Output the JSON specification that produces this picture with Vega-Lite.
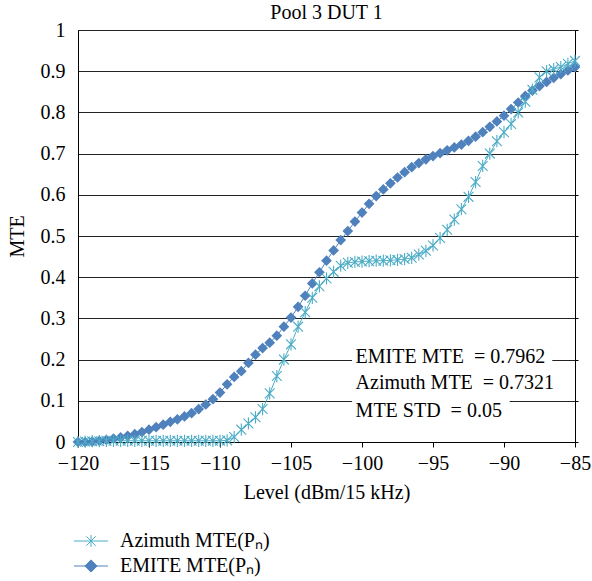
{
  "$schema": "https://vega.github.io/schema/vega-lite/v6.json",
  "width": 497,
  "height": 412,
  "autosize": {"type": "none"},
  "padding": {"left": 78, "top": 30, "right": 17, "bottom": 139},
  "background": "white",
  "title": {"text": "Pool 3 DUT 1", "font": "Liberation Serif", "fontSize": 20, "fontWeight": "normal", "color": "black", "anchor": "middle", "offset": -3},
  "config": {
    "view": {"stroke": "black", "strokeWidth": 1},
    "font": "Liberation Serif",
    "axis": {"labelFont": "Liberation Serif", "titleFont": "Liberation Serif", "labelFontSize": 20, "titleFontSize": 20, "labelColor": "black", "titleColor": "black", "titleFontWeight": "normal", "domainColor": "black", "tickColor": "black", "labelFlush": false},
    "axisX": {"tickSize": 5, "labelPadding": 6, "titlePadding": 9, "grid": false, "format": "d", "tickCount": 7, "labelFlush": false}
  },
  "resolve": {"axis": {"y": "independent"}},
  "datasets": {
    "curves": [
      {"series": "EMITE MTE(Pₙ)", "level": -120, "mte": 0.000},
      {"series": "EMITE MTE(Pₙ)", "level": -119.5, "mte": 0.000},
      {"series": "EMITE MTE(Pₙ)", "level": -119, "mte": 0.001},
      {"series": "EMITE MTE(Pₙ)", "level": -118.5, "mte": 0.003},
      {"series": "EMITE MTE(Pₙ)", "level": -118, "mte": 0.005},
      {"series": "EMITE MTE(Pₙ)", "level": -117.5, "mte": 0.008},
      {"series": "EMITE MTE(Pₙ)", "level": -117, "mte": 0.011},
      {"series": "EMITE MTE(Pₙ)", "level": -116.5, "mte": 0.015},
      {"series": "EMITE MTE(Pₙ)", "level": -116, "mte": 0.019},
      {"series": "EMITE MTE(Pₙ)", "level": -115.5, "mte": 0.024},
      {"series": "EMITE MTE(Pₙ)", "level": -115, "mte": 0.030},
      {"series": "EMITE MTE(Pₙ)", "level": -114.5, "mte": 0.036},
      {"series": "EMITE MTE(Pₙ)", "level": -114, "mte": 0.042},
      {"series": "EMITE MTE(Pₙ)", "level": -113.5, "mte": 0.049},
      {"series": "EMITE MTE(Pₙ)", "level": -113, "mte": 0.055},
      {"series": "EMITE MTE(Pₙ)", "level": -112.5, "mte": 0.062},
      {"series": "EMITE MTE(Pₙ)", "level": -112, "mte": 0.070},
      {"series": "EMITE MTE(Pₙ)", "level": -111.5, "mte": 0.080},
      {"series": "EMITE MTE(Pₙ)", "level": -111, "mte": 0.091},
      {"series": "EMITE MTE(Pₙ)", "level": -110.5, "mte": 0.104},
      {"series": "EMITE MTE(Pₙ)", "level": -110, "mte": 0.120},
      {"series": "EMITE MTE(Pₙ)", "level": -109.5, "mte": 0.140},
      {"series": "EMITE MTE(Pₙ)", "level": -109, "mte": 0.158},
      {"series": "EMITE MTE(Pₙ)", "level": -108.5, "mte": 0.172},
      {"series": "EMITE MTE(Pₙ)", "level": -108, "mte": 0.192},
      {"series": "EMITE MTE(Pₙ)", "level": -107.5, "mte": 0.212},
      {"series": "EMITE MTE(Pₙ)", "level": -107, "mte": 0.228},
      {"series": "EMITE MTE(Pₙ)", "level": -106.5, "mte": 0.241},
      {"series": "EMITE MTE(Pₙ)", "level": -106, "mte": 0.258},
      {"series": "EMITE MTE(Pₙ)", "level": -105.5, "mte": 0.280},
      {"series": "EMITE MTE(Pₙ)", "level": -105, "mte": 0.302},
      {"series": "EMITE MTE(Pₙ)", "level": -104.5, "mte": 0.328},
      {"series": "EMITE MTE(Pₙ)", "level": -104, "mte": 0.355},
      {"series": "EMITE MTE(Pₙ)", "level": -103.5, "mte": 0.385},
      {"series": "EMITE MTE(Pₙ)", "level": -103, "mte": 0.412},
      {"series": "EMITE MTE(Pₙ)", "level": -102.5, "mte": 0.440},
      {"series": "EMITE MTE(Pₙ)", "level": -102, "mte": 0.465},
      {"series": "EMITE MTE(Pₙ)", "level": -101.5, "mte": 0.490},
      {"series": "EMITE MTE(Pₙ)", "level": -101, "mte": 0.512},
      {"series": "EMITE MTE(Pₙ)", "level": -100.5, "mte": 0.535},
      {"series": "EMITE MTE(Pₙ)", "level": -100, "mte": 0.557},
      {"series": "EMITE MTE(Pₙ)", "level": -99.5, "mte": 0.578},
      {"series": "EMITE MTE(Pₙ)", "level": -99, "mte": 0.597},
      {"series": "EMITE MTE(Pₙ)", "level": -98.5, "mte": 0.613},
      {"series": "EMITE MTE(Pₙ)", "level": -98, "mte": 0.628},
      {"series": "EMITE MTE(Pₙ)", "level": -97.5, "mte": 0.642},
      {"series": "EMITE MTE(Pₙ)", "level": -97, "mte": 0.655},
      {"series": "EMITE MTE(Pₙ)", "level": -96.5, "mte": 0.667},
      {"series": "EMITE MTE(Pₙ)", "level": -96, "mte": 0.677},
      {"series": "EMITE MTE(Pₙ)", "level": -95.5, "mte": 0.686},
      {"series": "EMITE MTE(Pₙ)", "level": -95, "mte": 0.694},
      {"series": "EMITE MTE(Pₙ)", "level": -94.5, "mte": 0.701},
      {"series": "EMITE MTE(Pₙ)", "level": -94, "mte": 0.708},
      {"series": "EMITE MTE(Pₙ)", "level": -93.5, "mte": 0.715},
      {"series": "EMITE MTE(Pₙ)", "level": -93, "mte": 0.722},
      {"series": "EMITE MTE(Pₙ)", "level": -92.5, "mte": 0.731},
      {"series": "EMITE MTE(Pₙ)", "level": -92, "mte": 0.741},
      {"series": "EMITE MTE(Pₙ)", "level": -91.5, "mte": 0.752},
      {"series": "EMITE MTE(Pₙ)", "level": -91, "mte": 0.765},
      {"series": "EMITE MTE(Pₙ)", "level": -90.5, "mte": 0.778},
      {"series": "EMITE MTE(Pₙ)", "level": -90, "mte": 0.792},
      {"series": "EMITE MTE(Pₙ)", "level": -89.5, "mte": 0.808},
      {"series": "EMITE MTE(Pₙ)", "level": -89, "mte": 0.824},
      {"series": "EMITE MTE(Pₙ)", "level": -88.5, "mte": 0.840},
      {"series": "EMITE MTE(Pₙ)", "level": -88, "mte": 0.853},
      {"series": "EMITE MTE(Pₙ)", "level": -87.5, "mte": 0.864},
      {"series": "EMITE MTE(Pₙ)", "level": -87, "mte": 0.874},
      {"series": "EMITE MTE(Pₙ)", "level": -86.5, "mte": 0.884},
      {"series": "EMITE MTE(Pₙ)", "level": -86, "mte": 0.893},
      {"series": "EMITE MTE(Pₙ)", "level": -85.5, "mte": 0.902},
      {"series": "EMITE MTE(Pₙ)", "level": -85, "mte": 0.910},
      {"series": "Azimuth MTE(Pₙ)", "level": -120, "mte": 0.000},
      {"series": "Azimuth MTE(Pₙ)", "level": -119.5, "mte": 0.001},
      {"series": "Azimuth MTE(Pₙ)", "level": -119, "mte": 0.002},
      {"series": "Azimuth MTE(Pₙ)", "level": -118.5, "mte": 0.002},
      {"series": "Azimuth MTE(Pₙ)", "level": -118, "mte": 0.003},
      {"series": "Azimuth MTE(Pₙ)", "level": -117.5, "mte": 0.003},
      {"series": "Azimuth MTE(Pₙ)", "level": -117, "mte": 0.003},
      {"series": "Azimuth MTE(Pₙ)", "level": -116.5, "mte": 0.003},
      {"series": "Azimuth MTE(Pₙ)", "level": -116, "mte": 0.003},
      {"series": "Azimuth MTE(Pₙ)", "level": -115.5, "mte": 0.003},
      {"series": "Azimuth MTE(Pₙ)", "level": -115, "mte": 0.003},
      {"series": "Azimuth MTE(Pₙ)", "level": -114.5, "mte": 0.003},
      {"series": "Azimuth MTE(Pₙ)", "level": -114, "mte": 0.003},
      {"series": "Azimuth MTE(Pₙ)", "level": -113.5, "mte": 0.003},
      {"series": "Azimuth MTE(Pₙ)", "level": -113, "mte": 0.003},
      {"series": "Azimuth MTE(Pₙ)", "level": -112.5, "mte": 0.003},
      {"series": "Azimuth MTE(Pₙ)", "level": -112, "mte": 0.003},
      {"series": "Azimuth MTE(Pₙ)", "level": -111.5, "mte": 0.003},
      {"series": "Azimuth MTE(Pₙ)", "level": -111, "mte": 0.003},
      {"series": "Azimuth MTE(Pₙ)", "level": -110.5, "mte": 0.003},
      {"series": "Azimuth MTE(Pₙ)", "level": -110, "mte": 0.003},
      {"series": "Azimuth MTE(Pₙ)", "level": -109.5, "mte": 0.004},
      {"series": "Azimuth MTE(Pₙ)", "level": -109, "mte": 0.012},
      {"series": "Azimuth MTE(Pₙ)", "level": -108.5, "mte": 0.030},
      {"series": "Azimuth MTE(Pₙ)", "level": -108, "mte": 0.045},
      {"series": "Azimuth MTE(Pₙ)", "level": -107.5, "mte": 0.060},
      {"series": "Azimuth MTE(Pₙ)", "level": -107, "mte": 0.080},
      {"series": "Azimuth MTE(Pₙ)", "level": -106.5, "mte": 0.118},
      {"series": "Azimuth MTE(Pₙ)", "level": -106, "mte": 0.160},
      {"series": "Azimuth MTE(Pₙ)", "level": -105.5, "mte": 0.200},
      {"series": "Azimuth MTE(Pₙ)", "level": -105, "mte": 0.237},
      {"series": "Azimuth MTE(Pₙ)", "level": -104.5, "mte": 0.280},
      {"series": "Azimuth MTE(Pₙ)", "level": -104, "mte": 0.315},
      {"series": "Azimuth MTE(Pₙ)", "level": -103.5, "mte": 0.350},
      {"series": "Azimuth MTE(Pₙ)", "level": -103, "mte": 0.378},
      {"series": "Azimuth MTE(Pₙ)", "level": -102.5, "mte": 0.397},
      {"series": "Azimuth MTE(Pₙ)", "level": -102, "mte": 0.413},
      {"series": "Azimuth MTE(Pₙ)", "level": -101.5, "mte": 0.428},
      {"series": "Azimuth MTE(Pₙ)", "level": -101, "mte": 0.435},
      {"series": "Azimuth MTE(Pₙ)", "level": -100.5, "mte": 0.437},
      {"series": "Azimuth MTE(Pₙ)", "level": -100, "mte": 0.438},
      {"series": "Azimuth MTE(Pₙ)", "level": -99.5, "mte": 0.439},
      {"series": "Azimuth MTE(Pₙ)", "level": -99, "mte": 0.440},
      {"series": "Azimuth MTE(Pₙ)", "level": -98.5, "mte": 0.440},
      {"series": "Azimuth MTE(Pₙ)", "level": -98, "mte": 0.441},
      {"series": "Azimuth MTE(Pₙ)", "level": -97.5, "mte": 0.442},
      {"series": "Azimuth MTE(Pₙ)", "level": -97, "mte": 0.444},
      {"series": "Azimuth MTE(Pₙ)", "level": -96.5, "mte": 0.447},
      {"series": "Azimuth MTE(Pₙ)", "level": -96, "mte": 0.455},
      {"series": "Azimuth MTE(Pₙ)", "level": -95.5, "mte": 0.464},
      {"series": "Azimuth MTE(Pₙ)", "level": -95, "mte": 0.477},
      {"series": "Azimuth MTE(Pₙ)", "level": -94.5, "mte": 0.495},
      {"series": "Azimuth MTE(Pₙ)", "level": -94, "mte": 0.515},
      {"series": "Azimuth MTE(Pₙ)", "level": -93.5, "mte": 0.540},
      {"series": "Azimuth MTE(Pₙ)", "level": -93, "mte": 0.565},
      {"series": "Azimuth MTE(Pₙ)", "level": -92.5, "mte": 0.595},
      {"series": "Azimuth MTE(Pₙ)", "level": -92, "mte": 0.631},
      {"series": "Azimuth MTE(Pₙ)", "level": -91.5, "mte": 0.670},
      {"series": "Azimuth MTE(Pₙ)", "level": -91, "mte": 0.700},
      {"series": "Azimuth MTE(Pₙ)", "level": -90.5, "mte": 0.730},
      {"series": "Azimuth MTE(Pₙ)", "level": -90, "mte": 0.752},
      {"series": "Azimuth MTE(Pₙ)", "level": -89.5, "mte": 0.772},
      {"series": "Azimuth MTE(Pₙ)", "level": -89, "mte": 0.800},
      {"series": "Azimuth MTE(Pₙ)", "level": -88.5, "mte": 0.826},
      {"series": "Azimuth MTE(Pₙ)", "level": -88, "mte": 0.855},
      {"series": "Azimuth MTE(Pₙ)", "level": -87.5, "mte": 0.885},
      {"series": "Azimuth MTE(Pₙ)", "level": -87, "mte": 0.900},
      {"series": "Azimuth MTE(Pₙ)", "level": -86.5, "mte": 0.905},
      {"series": "Azimuth MTE(Pₙ)", "level": -86, "mte": 0.910},
      {"series": "Azimuth MTE(Pₙ)", "level": -85.5, "mte": 0.918},
      {"series": "Azimuth MTE(Pₙ)", "level": -85, "mte": 0.925}
    ],
    "boxes": [
      {"x1": -100.7, "x2": -86.6, "y1": 0.185, "y2": 0.228},
      {"x1": -100.7, "x2": -89.6, "y1": 0.06, "y2": 0.11}
    ],
    "notes": [
      {"x": -100.45, "y": 0.206, "label": "EMITE MTE \u00a0= 0.7962"},
      {"x": -100.45, "y": 0.143, "label": "Azimuth MTE \u00a0= 0.7321"},
      {"x": -100.45, "y": 0.075, "label": "MTE STD \u00a0= 0.05"}
    ]
  },
  "layer": [
    {
      "data": {"name": "boxes"},
      "mark": {"type": "rect", "fill": "white", "stroke": null},
      "encoding": {
        "x": {"field": "x1", "type": "quantitative", "title": "Level (dBm/15 kHz)", "scale": {"domain": [-120, -85], "nice": false}},
        "x2": {"field": "x2"},
        "y": {"field": "y1", "type": "quantitative", "scale": {"domain": [0, 1], "nice": false}, "axis": null},
        "y2": {"field": "y2"}
      }
    },
    {
      "data": {"name": "curves"},
      "mark": {"type": "line", "strokeWidth": 1},
      "encoding": {
        "x": {"field": "level", "type": "quantitative", "title": "Level (dBm/15 kHz)", "scale": {"domain": [-120, -85], "nice": false}},
        "y": {"field": "mte", "type": "quantitative", "scale": {"domain": [0, 1], "nice": false},
              "axis": {"orient": "left", "title": "MTE", "format": "~g", "tickCount": 10, "ticks": false, "tickSize": 0, "labelPadding": 13, "titlePadding": 13, "grid": true, "gridColor": "#222", "gridWidth": 1, "domainColor": "black"}},
        "color": {"field": "series", "type": "nominal",
          "scale": {"domain": ["Azimuth MTE(Pₙ)", "EMITE MTE(Pₙ)"], "range": ["#4bacc6", "#4f81bd"]},
          "legend": {"orient": "none", "legendX": 3, "legendY": 501, "title": null, "symbolSize": 289, "symbolStrokeWidth": 1,
            "labelFont": "Liberation Serif", "labelFontSize": 20, "labelColor": "black", "labelOffset": 19, "rowPadding": 5,
            "encode": {"symbols": {"update": {
              "shape": {"signal": "indexof(datum.value, 'EMITE') >= 0 ? 'M-2,0H2M-0.72,0L0,-0.72L0.72,0L0,0.72Z' : 'M-2,0H2M-0.55,-0.55L0.55,0.55M-0.55,0.55L0.55,-0.55M0,-0.7V0.7'"},
              "fill": {"signal": "indexof(datum.value, 'EMITE') >= 0 ? '#4f81bd' : 'transparent'"}
            }}}}
        },
        "order": {"field": "level", "type": "quantitative"}
      }
    },
    {
      "data": {"name": "curves"},
      "transform": [{"filter": "indexof(datum.series, 'EMITE') >= 0"}],
      "mark": {"type": "point", "shape": "diamond", "filled": true, "size": 115, "opacity": 1, "color": "#4f81bd"},
      "encoding": {
        "x": {"field": "level", "type": "quantitative", "title": "Level (dBm/15 kHz)"},
        "y": {"field": "mte", "type": "quantitative", "axis": null}
      }
    },
    {
      "data": {"name": "curves"},
      "transform": [{"filter": "indexof(datum.series, 'Azimuth') >= 0"}],
      "mark": {"type": "point", "shape": "M-0.8,-0.8L0.8,0.8M-0.8,0.8L0.8,-0.8M0,-1V1", "filled": false, "size": 150, "strokeWidth": 1.1, "opacity": 1, "color": "#4bacc6"},
      "encoding": {
        "x": {"field": "level", "type": "quantitative", "title": "Level (dBm/15 kHz)"},
        "y": {"field": "mte", "type": "quantitative", "axis": null}
      }
    },
    {
      "data": {"name": "notes"},
      "mark": {"type": "text", "align": "left", "baseline": "middle", "font": "Liberation Serif", "fontSize": 20, "color": "black"},
      "encoding": {
        "x": {"field": "x", "type": "quantitative", "title": "Level (dBm/15 kHz)"},
        "y": {"field": "y", "type": "quantitative",
              "axis": {"orient": "right", "labels": false, "grid": false, "domain": false, "ticks": true, "tickSize": 3, "tickCount": 10, "title": null}},
        "text": {"field": "label"}
      }
    }
  ]
}
